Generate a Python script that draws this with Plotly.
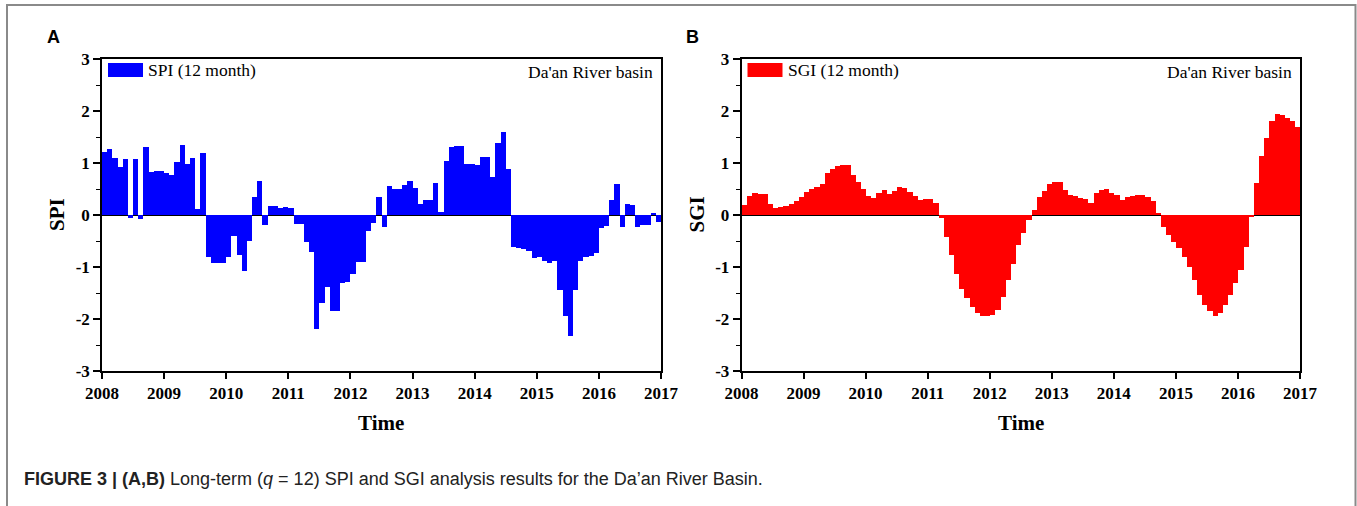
import plotly.graph_objects as go

W, H = 1357, 506

years = list(range(2008, 2018))
year_labels = [str(y) for y in years]
y_ticks = [-3, -2, -1, 0, 1, 2, 3]
y_tick_labels = ["-3", "-2", "-1", "0", "1", "2", "3"]

spi = [1.22, 1.26, 1.10, 0.93, 1.07, -0.05, 1.08, -0.08, 1.30, 0.82, 0.84, 0.84,
       0.80, 0.77, 1.01, 1.35, 0.99, 1.10, 0.12, 1.19, -0.80, -0.93, -0.92, -0.92,
       -0.80, -0.41, -0.77, -1.07, -0.50, 0.35, 0.65, -0.20, 0.17, 0.17, 0.13, 0.15,
       0.13, -0.17, -0.17, -0.52, -0.71, -2.20, -1.70, -1.38, -1.85, -1.85, -1.31, -1.28,
       -1.13, -0.91, -0.91, -0.31, -0.15, 0.34, -0.23, 0.55, 0.50, 0.50, 0.58, 0.66,
       0.52, 0.22, 0.28, 0.28, 0.62, 0.05, 1.04, 1.30, 1.33, 1.33, 0.99, 0.98,
       0.97, 1.12, 1.12, 0.74, 1.38, 1.60, 0.88, -0.61, -0.63, -0.66, -0.70, -0.83,
       -0.80, -0.88, -0.93, -0.88, -1.45, -1.95, -2.33, -1.45, -0.88, -0.80, -0.79, -0.73,
       -0.25, -0.21, 0.28, 0.60, -0.23, 0.22, 0.20, -0.23, -0.20, -0.20, 0.03, -0.13]

sgi = [0.20, 0.36, 0.42, 0.40, 0.40, 0.22, 0.14, 0.15, 0.17, 0.22, 0.27, 0.34,
       0.45, 0.50, 0.53, 0.60, 0.80, 0.89, 0.94, 0.96, 0.96, 0.76, 0.64, 0.50,
       0.36, 0.32, 0.42, 0.48, 0.40, 0.46, 0.53, 0.52, 0.44, 0.37, 0.28, 0.31,
       0.30, 0.23, -0.05, -0.42, -0.77, -1.13, -1.43, -1.60, -1.76, -1.89, -1.94, -1.94,
       -1.93, -1.82, -1.57, -1.25, -0.94, -0.58, -0.35, -0.10, 0.09, 0.34, 0.47, 0.59,
       0.64, 0.64, 0.48, 0.38, 0.36, 0.33, 0.30, 0.24, 0.43, 0.48, 0.50, 0.43,
       0.38, 0.29, 0.34, 0.36, 0.39, 0.39, 0.34, 0.27, 0.02, -0.23, -0.39, -0.52,
       -0.63, -0.80, -1.00, -1.25, -1.53, -1.73, -1.85, -1.94, -1.89, -1.73, -1.53, -1.31,
       -1.06, -0.61, -0.02, 0.61, 1.13, 1.48, 1.81, 1.95, 1.92, 1.87, 1.81, 1.69]

months_x = [2008 + (i + 0.5) / 12 for i in range(len(spi))]

panels = [
    dict(name="SPI (12 month)", ytitle="SPI", vals=spi, color="#0000FF", label="A",
         x0=102, x1=661),
    dict(name="SGI (12 month)", ytitle="SGI", vals=sgi, color="#FF0000", label="B",
         x0=741.5, x1=1300),
]
basin = "Da'an River basin"

plot_top, plot_bot = 59, 371
ydom = [1 - plot_bot / H, 1 - plot_top / H]

serif = "Liberation Serif, Times New Roman, serif"
sans = "Liberation Sans, Arial, sans-serif"

fig = go.Figure()
annotations = []
shapes = []

for k, p in enumerate(panels):
    sfx = "" if k == 0 else str(k + 1)
    fig.add_trace(go.Bar(
        x=months_x, y=p["vals"], width=1 / 12, name=p["name"],
        marker=dict(color=p["color"], line=dict(width=0)),
        xaxis="x" + sfx, yaxis="y" + sfx, showlegend=False,
    ))
    xd = [p["x0"] / W, p["x1"] / W]
    axis_common = dict(showline=True, linecolor="black", linewidth=1.5, mirror=True,
                       ticks="outside", tickcolor="black", tickwidth=1.5,
                       showgrid=False, automargin=False,
                       tickfont=dict(family=serif, size=17, color="black"),
                       layer="above traces")
    fig.update_layout(**{
        "xaxis" + sfx: dict(domain=xd, range=[2008, 2017], tickvals=years,
                            ticktext=["<b>" + t + "</b>" for t in year_labels],
                            ticklen=6, zeroline=False, anchor="y" + sfx, **axis_common),
        "yaxis" + sfx: dict(domain=ydom, range=[-3, 3], tickvals=y_ticks,
                            ticktext=["<b>" + t + "</b>" for t in y_tick_labels], ticklen=7,
                            minor=dict(dtick=0.5, tick0=0.5, ticklen=4, ticks="outside",
                                       tickcolor="black", tickwidth=1.2, showgrid=False),
                            zeroline=True, zerolinecolor="black", zerolinewidth=1.2,
                            anchor="x" + sfx, **axis_common),
    })
    # legend swatch + text
    shapes.append(dict(type="rect", xref="paper", yref="paper",
                       x0=(p["x0"] + 6) / W, x1=(p["x0"] + 41) / W,
                       y0=1 - 77 / H, y1=1 - 63 / H,
                       fillcolor=p["color"], line=dict(width=0)))
    annotations.append(dict(text=p["name"], xref="paper", yref="paper",
                            x=(p["x0"] + 44) / W, y=1 - 70.5 / H, xanchor="left", yanchor="middle",
                            showarrow=False, font=dict(family=serif, size=17.5, color="black")))
    annotations.append(dict(text=basin, xref="paper", yref="paper",
                            x=(p["x1"] - 6) / W, y=1 - 72 / H, xanchor="right", yanchor="middle",
                            showarrow=False, font=dict(family=serif, size=17.5, color="black")))
    # axis titles
    annotations.append(dict(text="<b>Time</b>", xref="paper", yref="paper",
                            x=(p["x0"] + p["x1"]) / 2 / W, y=1 - 423 / H,
                            xanchor="center", yanchor="middle", showarrow=False,
                            font=dict(family=serif, size=21, color="black")))
    annotations.append(dict(text="<b>" + p["ytitle"] + "</b>", xref="paper", yref="paper",
                            x=(p["x0"] - 45) / W, y=1 - 215 / H, textangle=-90,
                            xanchor="center", yanchor="middle", showarrow=False,
                            font=dict(family=serif, size=21, color="black")))
    annotations.append(dict(text="<b>" + p["label"] + "</b>", xref="paper", yref="paper",
                            x=(p["x0"] - 49) / W, y=1 - 37 / H, xanchor="center", yanchor="middle",
                            showarrow=False, font=dict(family=sans, size=18, color="black")))

caption = ("<b>FIGURE 3 | (A,B)</b> Long-term (<i>q</i> = 12) SPI and SGI analysis "
           "results for the Da\u2019an River Basin.")
annotations.append(dict(text=caption, xref="paper", yref="paper", x=22 / W, y=1 - 479 / H,
                        xanchor="left", yanchor="middle", showarrow=False,
                        font=dict(family=sans, size=18, color="#222222")))

# outer figure frame
shapes.append(dict(type="rect", xref="paper", yref="paper", x0=7 / W, x1=1355.5 / W,
                   y0=-0.05, y1=1 - 5 / H, line=dict(color="#8a8a8a", width=2)))

fig.update_layout(width=W, height=H, margin=dict(l=0, r=0, t=0, b=0, autoexpand=False),
                  paper_bgcolor="white", plot_bgcolor="white", bargap=0,
                  annotations=annotations, shapes=shapes)

fig.write_html("out.html",
               post_script="document.body.style.margin='0';document.body.style.overflow='hidden';")
